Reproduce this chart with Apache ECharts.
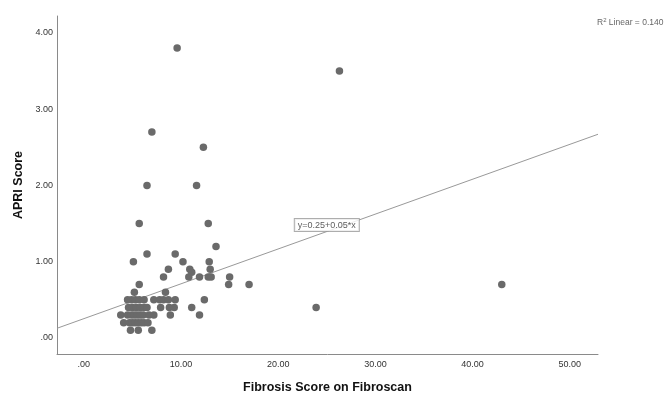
<!DOCTYPE html>
<html>
<head>
<meta charset="utf-8">
<script src="https://cdn.jsdelivr.net/npm/echarts@6/dist/echarts.min.js"></script>
<style>html,body{margin:0;padding:0;background:#fff}#c{width:665px;height:393px}</style>
</head>
<body>
<div id="c"></div>
<script>
// Fibrosis score (x) values
const fibroscan = [
  9.6, 26.3, 7.0, 12.3, 6.5, 11.6, 5.7, 12.8, 13.6, 6.5, 9.4, 5.1, 10.2, 12.9,
  8.7, 10.9, 13.0, 11.1, 8.2, 10.8, 11.9, 12.8, 13.1, 15.0, 5.7, 14.9, 17.0, 43.0,
  5.2, 8.4, 23.9, 12.4, 11.1, 11.9,
  4.5, 4.9, 5.3, 5.7, 6.2, 7.2, 7.8, 8.2, 8.7, 9.4,
  4.6, 5.0, 5.4, 5.8, 6.2, 6.5, 7.9, 8.8, 9.3,
  3.8, 4.5, 4.9, 5.2, 5.5, 5.8, 6.1, 6.7, 7.2, 8.9,
  4.1, 4.7, 5.0, 5.3, 5.6, 5.9, 6.2, 6.6,
  4.8, 5.6, 7.0
];
// APRI score (y) values
const apri = [
  3.8, 3.5, 2.7, 2.5, 2.0, 2.0, 1.5, 1.5, 1.2, 1.1, 1.1, 1.0, 1.0, 1.0,
  0.9, 0.9, 0.9, 0.86, 0.8, 0.8, 0.8, 0.8, 0.8, 0.8, 0.7, 0.7, 0.7, 0.7,
  0.6, 0.6, 0.4, 0.5, 0.4, 0.3,
  0.5, 0.5, 0.5, 0.5, 0.5, 0.5, 0.5, 0.5, 0.5, 0.5,
  0.4, 0.4, 0.4, 0.4, 0.4, 0.4, 0.4, 0.4, 0.4,
  0.3, 0.3, 0.3, 0.3, 0.3, 0.3, 0.3, 0.3, 0.3, 0.3,
  0.2, 0.2, 0.2, 0.2, 0.2, 0.2, 0.2, 0.2,
  0.1, 0.1, 0.1
];
// Fit line end points
const fitX = [-2.76, 52.9];
const fitY = [0.127, 2.67];
const xTicks = [0, 10, 20, 30, 40, 50];
const yTicks = [0, 1, 2, 3, 4];
const equationText = 'y=0.25+0.05*x';
const equationAnchor = [25.0, 1.48];
const r2Text = '0.140';

const fmt = v => (v === 0 ? '.00' : v.toFixed(2));
const font = '"Liberation Sans", Arial, sans-serif';

const chart = echarts.init(document.getElementById('c'), null, {renderer: 'canvas'});
chart.setOption({
  animation: false,
  backgroundColor: '#fff',
  grid: {left: 57, right: 67, top: 16, bottom: 39, containLabel: false, outerBoundsMode: 'none'},
  xAxis: {
    type: 'value', min: -2.76, max: 52.9,
    name: 'Fibrosis Score on Fibroscan', nameLocation: 'middle', nameGap: 27,
    nameTextStyle: {fontFamily: font, fontSize: 12.5, fontWeight: 'bold', color: '#111'},
    axisLine: {show: true, onZero: false, lineStyle: {color: '#8a8a8a', width: 1}},
    axisTick: {show: false},
    splitLine: {show: false},
    axisLabel: {customValues: xTicks, formatter: fmt, fontFamily: font, fontSize: 9, color: '#333', margin: 6}
  },
  yAxis: {
    type: 'value', min: -0.21, max: 4.22,
    name: 'APRI Score', nameLocation: 'middle', nameGap: 30, nameRotate: 90,
    nameTextStyle: {fontFamily: font, fontSize: 12.5, fontWeight: 'bold', color: '#111'},
    axisLine: {show: true, onZero: false, lineStyle: {color: '#8a8a8a', width: 1}},
    axisTick: {show: false},
    splitLine: {show: false},
    axisLabel: {customValues: yTicks, formatter: fmt, fontFamily: font, fontSize: 9, color: '#333', margin: 4, padding: [6, 0, 0, 0]}
  },
  series: [
    {
      type: 'line', data: fitX.map((x, i) => [x, fitY[i]]), symbol: 'none',
      lineStyle: {color: '#999', width: 1}, z: 1, silent: true
    },
    {
      type: 'scatter', data: fibroscan.map((x, i) => [x, apri[i]]),
      symbolSize: 7.5, itemStyle: {color: '#6a6a6a', opacity: 1}, z: 2
    },
    {
      type: 'scatter', data: [equationAnchor], symbolSize: 0, z: 3, silent: true,
      label: {
        show: true, position: 'inside', formatter: equationText,
        fontFamily: font, fontSize: 9, color: '#333',
        backgroundColor: '#fff', borderColor: '#999', borderWidth: 1, padding: [2, 3, 1, 3]
      }
    }
  ],
  graphic: [{
    type: 'text', left: 597, top: 17,
    style: {
      text: '{a|R}{s|2}{a| Linear = ' + r2Text + '}',
      rich: {
        a: {fontFamily: font, fontSize: 8.5, fill: '#666', color: '#666'},
        s: {fontFamily: font, fontSize: 6, fill: '#666', color: '#666', verticalAlign: 'top', padding: [0, 0, 5, 0]}
      }
    }
  }]
});
</script>
</body>
</html>
